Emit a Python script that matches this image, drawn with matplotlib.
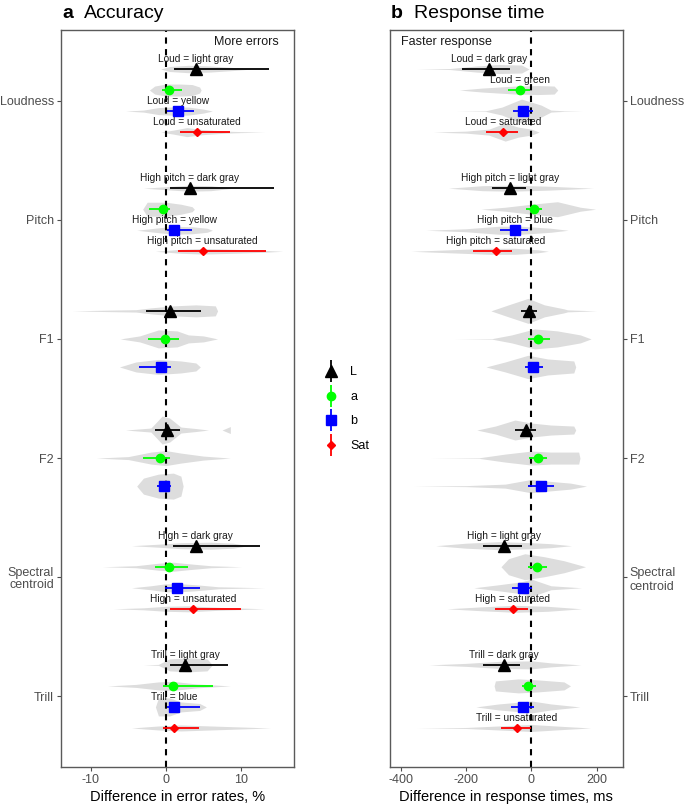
import numpy as np
import matplotlib.pyplot as plt
from matplotlib.lines import Line2D
from matplotlib.legend_handler import HandlerTuple

plt.rcParams['font.family'] = ['Liberation Sans', 'DejaVu Sans']
plt.rcParams['axes.unicode_minus'] = False

categories = ['Loudness', 'Pitch', 'F1', 'F2', 'Spectral\ncentroid', 'Trill']
row_cat = [0, 0, 0, 0, 1, 1, 1, 1, 2, 2, 2, 3, 3, 3, 4, 4, 4, 4, 5, 5, 5, 5]
row_feat = ['L', 'a', 'b', 'Sat', 'L', 'a', 'b', 'Sat', 'L', 'a', 'b',
            'L', 'a', 'b', 'L', 'a', 'b', 'Sat', 'L', 'a', 'b', 'Sat']
features = ['L', 'a', 'b', 'Sat']

# accuracy: difference in error rates, %
acc_est = [4.0, 0.4, 1.6, 4.1, 3.2, -0.4, 1.1, 4.9, 0.5, -0.1, -0.7,
           0.2, -0.8, -0.2, 4.0, 0.4, 1.5, 3.6, 2.6, 1.0, 1.1, 1.1]
acc_lo = [1.1, -0.5, 0.1, 1.9, 0.5, -2.3, 0.1, 1.6, -2.6, -2.4, -3.6,
          -1.4, -3.0, -1.2, 1.0, -1.4, -0.1, 0.6, 0.6, -0.4, 0.1, -0.4]
acc_hi = [13.7, 2.1, 3.8, 8.6, 14.4, 0.6, 3.5, 13.3, 4.7, 1.8, 0.7,
          1.9, 0.6, 0.7, 12.5, 2.9, 4.5, 10.0, 8.3, 6.3, 4.6, 4.4]
acc_vx = [
    [-0.7, 0.5, 3, 6, 9, 11.5],
    [-2.2, -1.5, 0, 2, 3.5, 4.5, 4.7],
    [-5.4, -3, -1, 1, 3, 5, 6.2],
    [-0.7, 1, 2.8, 5, 8, 10, 13.2],
    [-3, 0, 3, 6, 9],
    [-3.1, -2.5, 0, 2, 3.5, 3.8],
    [-3.9, -1.5, 1, 3.5, 5.5, 6.2],
    [-1.4, 2, 5, 9, 13, 15.6],
    [-12.5, -8, -4, -2, 1, 4, 6.6, 6.9],
    [-6.1, -3.5, -1, 1.5, 3, 5, 6.9],
    [-6.2, -4, -1, 2, 4, 4.6],
    [-5.4, -2, -0.5, 0.5, 2, 4, 5.7, 7.5, 8.6, 8.6],
    [-9.3, -5, -2, 0, 2, 5, 8.6],
    [-3.9, -3, -1, 1, 2, 2.3],
    [-4.6, -1, 2, 6, 9, 11],
    [-8.5, -4, -1, 1, 3, 6, 10.1],
    [-4.6, -2, 0, 2, 4, 7, 13.2],
    [-7, -3, 0, 3, 7, 13.2],
    [-3, -1, 0.5, 3, 5.5, 6.2],
    [-7.8, -4, -1, 1, 4, 8.6],
    [-1.4, -1, 0.5, 2, 4.5, 5.4],
    [-4.6, -1, 2, 6, 10, 14],
]
acc_vw = [
    [0, 2.5, 3.7, 3, 1.5, 0],
    [0, 4, 6, 6, 5.5, 3, 0],
    [0, 1, 3.5, 4.2, 4, 2, 0],
    [0, 2, 4.5, 2.5, 1, 0.5, 0],
    [0, 1.5, 3, 2.5, 0],
    [0, 7, 7, 5, 2.5, 0],
    [0, 2, 4, 3.5, 2, 0],
    [0, 2, 2.8, 2, 1, 0],
    [0, 0.7, 1.2, 3, 5, 6, 5, 0],
    [0, 3, 9, 8, 4, 3, 0],
    [0, 5, 7.5, 6, 4, 0],
    [0, 2, 14, 12, 3, 1.5, 0, 0, 3.5, 0],
    [0, 1.5, 6, 7.5, 5, 2, 0],
    [0, 8, 12, 13, 10, 0],
    [0, 1.5, 3, 3.5, 2.5, 0],
    [0, 1, 3.5, 4.5, 3, 1, 0],
    [0, 2, 4, 4, 3, 1, 0],
    [0, 1, 2.5, 3, 1.5, 0],
    [0, 0.5, 6, 7, 6, 0],
    [0, 1.5, 4, 4.5, 2, 0],
    [0, 9, 9, 5, 3.5, 0],
    [0, 2, 3, 2, 1, 0],
]
acc_labels = ['Loud = light gray', '', 'Loud = yellow', 'Loud = unsaturated',
              'High pitch = dark gray', '', 'High pitch = yellow', 'High pitch = unsaturated',
              '', '', '', '', '', '',
              'High = dark gray', '', '', 'High = unsaturated',
              'Trill = light gray', '', 'Trill = blue', '']

# response time: difference in ms
rt_est = [-129, -35, -25, -86, -65, 8, -50, -109, -7, 21, 6,
          -17, 19, 29, -84, 18, -27, -57, -84, -9, -25, -45]
rt_lo = [-211, -70, -55, -139, -121, -17, -96, -178, -33, -9, -19,
         -50, -7, -9, -149, -9, -59, -111, -147, -30, -62, -94]
rt_hi = [-65, -4, 4, -42, -16, 34, -11, -60, 16, 57, 37,
         14, 47, 69, -30, 47, 1, -11, -35, 13, 8, -2]
rt_vx = [
    [-351, -250, -170, -100, -30, -7],
    [-221, -150, -50, 20, 70, 81],
    [-230, -140, -90, -30, 30, 60, 100, 157],
    [-300, -200, -130, -80, -40, 0, 24],
    [-254, -150, -60, 50, 190],
    [-154, -80, 0, 80, 150, 197],
    [-323, -200, -100, -30, 60, 113],
    [-368, -250, -130, -50, 20, 52],
    [-124, -70, -10, 40, 100, 111, 200],
    [-237, -120, -60, 10, 80, 150, 183],
    [-139, -80, -10, 50, 130, 136],
    [-167, -110, -50, 0, 60, 130, 136],
    [-310, -160, -80, 0, 60, 145, 149],
    [-361, -200, -80, 0, 50, 120, 169],
    [-293, -200, -100, 0, 60, 123],
    [-93, -70, -20, 40, 100, 166],
    [-176, -100, -30, 0, 60, 154],
    [-259, -150, -50, 50, 154],
    [-313, -200, -100, 0, 60, 152],
    [-114, -110, -40, 20, 100, 120],
    [-170, -100, -30, 0, 60, 149],
    [-351, -200, -100, 0, 100, 182],
]
rt_vw = [
    [0, 0.5, 3, 4.5, 4, 0],
    [0, 2, 4, 4.5, 4, 0],
    [0, 0.3, 4, 12, 6, 1, 0.3, 0],
    [0, 1, 3, 9, 5, 3, 0],
    [0, 2.5, 3, 2, 0],
    [0, 2, 5, 7.5, 2, 0],
    [0, 1.5, 4, 4, 2, 0],
    [0, 1.5, 3, 3, 1.5, 0],
    [0, 6, 12.5, 6, 2, 1, 0],
    [0, 0.3, 4, 10, 8, 4, 0],
    [0, 5, 11.7, 8, 6, 0],
    [0, 4, 10, 7, 5, 4, 0],
    [0, 0.3, 4, 7, 6, 6, 0],
    [0, 0.5, 2, 6.7, 5, 3, 0],
    [0, 2.5, 4, 3, 2, 0],
    [0, 8, 13, 10, 6, 0],
    [0, 3, 6, 8.7, 2, 0],
    [0, 2, 3.5, 2.5, 0],
    [0, 1.5, 3.5, 4, 2, 0],
    [0, 5, 7, 6, 4, 0],
    [0, 3, 5, 6, 3, 0],
    [0, 0.5, 2, 3.5, 1.5, 0],
]
rt_labels = ['Loud = dark gray', 'Loud = green', '', 'Loud = saturated',
             'High pitch = light gray', '', 'High pitch = blue', 'High pitch = saturated',
             '', '', '', '', '', '',
             'High = light gray', '', '', 'High = saturated',
             'Trill = dark gray', '', '', 'Trill = unsaturated']

colors = {'L': 'black', 'a': '#00ff00', 'b': '#0000ff', 'Sat': '#ff0000'}
markers = {'L': '^', 'a': 'o', 'b': 's', 'Sat': 'D'}
msizes = {'L': 8.5, 'a': 6, 'b': 6.5, 'Sat': 4.3}

dodge = 0.706
vscale = 1 / 119.2   # violin widths are read in pixels


def row_positions():
    ys = []
    ncat = len(categories)
    for c in range(ncat):
        n = row_cat.count(c)
        for k in range(n):
            ys.append(ncat - c + ((n - 1) / 2 - k) * dodge / n)
    return ys


def draw_panel(ax, est, lo, hi, vx, vw, labels, xlim, xticks):
    ys = row_positions()
    for i, y in enumerate(ys):
        x = np.array(vx[i], dtype=float)
        w = np.array(vw[i], dtype=float) * vscale
        ax.fill_between(x, y - w, y + w, color='#dddddd', lw=0, zorder=1)
    ax.axvline(0, color='black', ls=(0, (3, 2.6)), lw=1.5, zorder=2)
    for i, y in enumerate(ys):
        f = row_feat[i]
        ax.plot([lo[i], hi[i]], [y, y], color=colors[f], lw=1.3, zorder=3,
                solid_capstyle='butt')
        ax.plot(est[i], y, marker=markers[f], ms=msizes[f], color=colors[f],
                ls='none', zorder=4)
        if labels[i]:
            ax.text(est[i], y + 0.084, labels[i], ha='center', va='center',
                    fontsize=7.3, color='#1a1a1a', zorder=5)
    ax.set_xlim(*xlim)
    ax.set_ylim(0.408, 6.592)
    ax.set_xticks(xticks)
    ax.set_yticks(range(len(categories), 0, -1))
    ax.set_yticklabels(categories)
    for t in ax.get_yticklabels():
        t.set_linespacing(1.05)
    for s in ax.spines.values():
        s.set_color('#5a5a5a')
        s.set_linewidth(1.0)
    ax.tick_params(length=3, width=0.8, color='#4d4d4d', labelcolor='#4d4d4d',
                   labelsize=9, pad=2)


fig = plt.figure(figsize=(6.85, 8.07), dpi=100)
ax1 = fig.add_axes([0.0891, 0.0496, 0.3401, 0.9132])
ax2 = fig.add_axes([0.5693, 0.0496, 0.3398, 0.9132])

draw_panel(ax1, acc_est, acc_lo, acc_hi, acc_vx, acc_vw, acc_labels,
           (-14, 17.1), [-10, 0, 10])
draw_panel(ax2, rt_est, rt_lo, rt_hi, rt_vx, rt_vw, rt_labels,
           (-433, 280), [-400, -200, 0, 200])
ax2.yaxis.tick_right()

ax1.set_xlabel('Difference in error rates, %', fontsize=10.5, labelpad=3)
ax2.set_xlabel('Difference in response times, ms', fontsize=10.5, labelpad=3)

ax1.text(0.936, 0.984, 'More errors', transform=ax1.transAxes, ha='right',
         va='center', fontsize=9, color='#1a1a1a')
ax2.text(0.046, 0.984, 'Faster response', transform=ax2.transAxes, ha='left',
         va='center', fontsize=9, color='#1a1a1a')

fig.text(62 / 685, 1 - 18 / 807, 'a', fontweight='bold', fontsize=14, va='baseline')
fig.text(84 / 685, 1 - 18 / 807, 'Accuracy', fontsize=14, va='baseline')
fig.text(391 / 685, 1 - 18 / 807, 'b', fontweight='bold', fontsize=14, va='baseline')
fig.text(414 / 685, 1 - 18 / 807, 'Response time', fontsize=14, va='baseline')

handles = []
for f in features:
    bar = Line2D([], [], color=colors[f], marker='|', ms=16, mew=1.3, ls='none')
    pt = Line2D([], [], color=colors[f], marker=markers[f], ms=msizes[f], ls='none')
    handles.append((bar, pt))
fig.legend(handles, features, loc='center', bbox_to_anchor=(0.506, 0.493),
           frameon=False, fontsize=9, labelspacing=1.0, handlelength=1.2,
           handletextpad=0.9, handler_map={tuple: HandlerTuple(ndivide=1)})

fig.savefig('out.png', dpi=100)
